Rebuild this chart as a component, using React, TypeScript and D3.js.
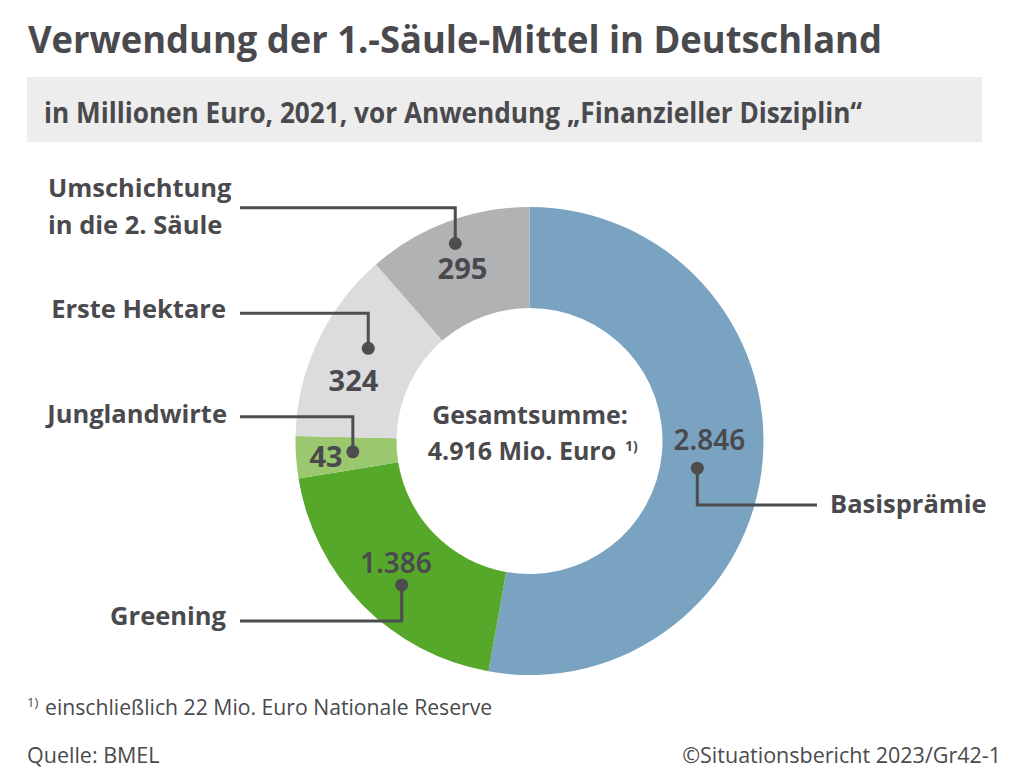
import React from "react";
import * as d3 from "d3";

// ---- data ----
const categories = ["Basisprämie", "Greening", "Junglandwirte", "Erste Hektare", "Umschichtung in die 2. Säule"];
const values = [2846, 1386, 43, 324, 295]; // Mio. Euro, printed labels
// share of the ring each slice occupies in the picture (degrees), as drawn by the original designer
const sliceDegrees = [190.1, 70.7, 10.4, 47.8, 41.0];
const totalLabel = 4916;
const reserve = 22;

const title = "Verwendung der 1.-Säule-Mittel in Deutschland";
const subtitle = "in Millionen Euro, 2021, vor Anwendung „Finanzieller Disziplin“";
const source = "Quelle: BMEL";
const credit = "©Situationsbericht 2023/Gr42-1";

// ---- styles / layout ----
const palette = ["#7aa3c1", "#56a82a", "#9bc86e", "#dcdcde", "#b1b2b4"];
const textColor = "#4a4a4e";
const lineColor = "#4d4d50";
const FONT = "'Open Sans', 'Noto Sans', sans-serif";
const SEMI = "'Noto Sans', 'Open Sans', sans-serif";

const W = 1024, H = 774;
const cx = 529.5, cy = 441, R = 234, r0 = 133;

// per-slice annotation layout (angles in degrees, clockwise from 12 o'clock)
const layout = [
  { vA: 89.5, vR: 180, semi: true, dA: 99.2, dR: 170, elbowY: 505, lineEnd: 817, labelX: 830, labelY: 513, anchor: "start" },
  { vA: 227.6, vR: 181, semi: true, dA: 221.6, dR: 192.5, elbowY: 621, lineEnd: 240, labelX: 226, labelY: 625, anchor: "end" },
  { vA: 265.5, vR: 204, semi: false, dA: 266.5, dR: 177, elbowY: 416.7, lineEnd: 240, labelX: 227, labelY: 423, anchor: "end" },
  { vA: 288.8, vR: 186, semi: false, dA: 299.9, dR: 186, elbowY: 313.3, lineEnd: 240, labelX: 226, labelY: 318.3, anchor: "end" },
  { vA: 338.7, vR: 184.6, semi: false, dA: 339.4, dR: 211, elbowY: 207.7, lineEnd: 240, labelX: 48, labelY: 197.3, anchor: "start" },
];

const de = d3.formatLocale({ decimal: ",", thousands: ".", grouping: [3], currency: ["", " €"] });
const fmt = de.format(",d");

const polar = (deg: number, rad: number) => {
  const a = (deg * Math.PI) / 180;
  return [cx + rad * Math.sin(a), cy - rad * Math.cos(a)];
};

export default function App() {
  const pie = d3.pie<number>().sort(null).value((d) => d)(sliceDegrees);
  const arc = d3.arc<d3.PieArcDatum<number>>().innerRadius(r0).outerRadius(R);

  return (
    <svg width={W} height={H} viewBox={`0 0 ${W} ${H}`} style={{ display: "block", position: "absolute", left: 0, top: 0, background: "#fff" }} fontFamily={FONT}>
      <rect width={W} height={H} fill="#fff" />
      <text x={28} y={53} fontSize={38} fontWeight={700} fill={textColor} textLength={854} lengthAdjust="spacingAndGlyphs">{title}</text>
      <rect x={27} y={77} width={955} height={65} fill="#ededed" />
      <text x={44} y={122.5} fontSize={28} fontWeight={700} fill={textColor} textLength={818} lengthAdjust="spacingAndGlyphs">{subtitle}</text>

      <g transform={`translate(${cx},${cy})`}>
        {pie.map((p, i) => (
          <path key={categories[i]} d={arc(p) || ""} fill={palette[i]} />
        ))}
      </g>

      {/* leader lines */}
      {layout.map((l, i) => {
        const [dx, dy] = polar(l.dA, l.dR);
        return (
          <g key={"lead" + i}>
            <path d={`M${dx},${dy} V${l.elbowY} H${l.lineEnd}`} fill="none" stroke={lineColor} strokeWidth={3} />
            <circle cx={dx} cy={dy} r={6.5} fill={lineColor} />
          </g>
        );
      })}

      {/* value labels */}
      {layout.map((l, i) => {
        const [vx, vy] = polar(l.vA, l.vR);
        return (
          <text key={"v" + i} x={vx} y={vy} dy="0.36em" textAnchor="middle" fontSize={l.semi ? 28 : 29} fontFamily={l.semi ? SEMI : FONT} fontWeight={l.semi ? 600 : 700} fill={textColor}>
            {fmt(values[i])}
          </text>
        );
      })}

      {/* category labels */}
      {layout.map((l, i) => {
        if (i === 4) {
          const words = categories[i].split(" ");
          return (
            <text key={"c" + i} x={l.labelX} y={l.labelY} fontSize={25.5} fontWeight={700} fill={textColor}>
              <tspan x={l.labelX} y={l.labelY}>{words[0]}</tspan>
              <tspan x={l.labelX} y={l.labelY + 37}>{words.slice(1).join(" ")}</tspan>
            </text>
          );
        }
        return (
          <text key={"c" + i} x={l.labelX} y={l.labelY} textAnchor={l.anchor as any} fontSize={25.5} fontWeight={700} fill={textColor}>
            {categories[i]}
          </text>
        );
      })}

      {/* center */}
      <text x={530} y={423.5} textAnchor="middle" fontSize={25} fontWeight={700} fill={textColor}>Gesamtsumme:</text>
      <text x={522} y={459.5} textAnchor="middle" fontSize={25} fontWeight={700} fill={textColor}>{fmt(totalLabel)} Mio. Euro</text>
      <text x={625} y={451} fontSize={14} fontWeight={700} fill={textColor}>1)</text>

      {/* footer */}
      <text x={27} y={707} fontSize={13} fill={textColor}>1)</text>
      <text x={45} y={715} fontSize={21.2} fill={textColor}>{`einschließlich ${reserve} Mio. Euro Nationale Reserve`}</text>
      <text x={27} y={763} fontSize={21.5} fill={textColor}>{source}</text>
      <text x={1001} y={763} textAnchor="end" fontSize={21.5} fill={textColor}>{credit}</text>
    </svg>
  );
}
